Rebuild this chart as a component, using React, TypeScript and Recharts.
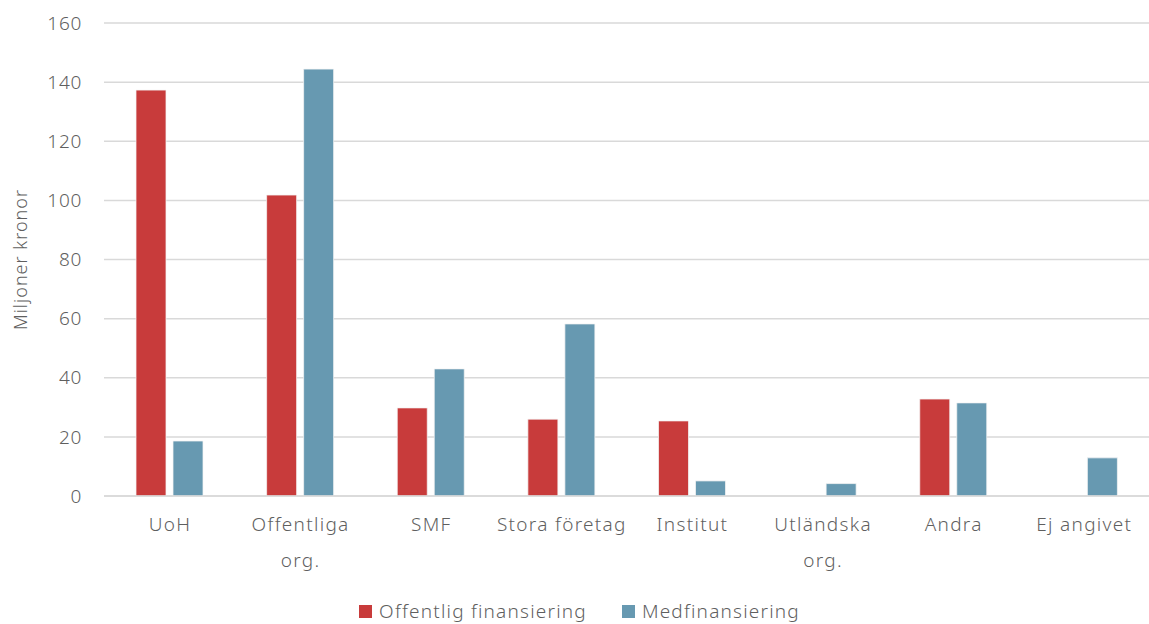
import { Bar, BarChart, CartesianGrid, Legend, XAxis, YAxis } from 'recharts'

const categories = ['UoH', 'Offentliga\norg.', 'SMF', 'Stora företag', 'Institut', 'Utländska\norg.', 'Andra', 'Ej angivet']
const offentlig = [137.3, 101.8, 29.8, 26.0, 25.4, 0, 32.8, 0]
const medfin = [18.6, 144.4, 43.0, 58.2, 5.1, 4.2, 31.5, 12.9]
const yTicks = [0, 20, 40, 60, 80, 100, 120, 140, 160]

const series = [
  { key: 'offentlig', name: 'Offentlig finansiering', color: '#c83b3b' },
  { key: 'medfin', name: 'Medfinansiering', color: '#6799b1' },
]

const data = categories.map((c, i) => ({ name: c, offentlig: offentlig[i], medfin: medfin[i] }))

const font = '"Noto Sans", sans-serif'
const textColor = '#5f5f5f'

function CategoryTick({ x, y, payload }: any) {
  const lines = String(payload.value).split('\n')
  return (
    <text x={x} y={y} textAnchor="middle" fill={textColor} fontSize={19} fontFamily={font} fontWeight={300} letterSpacing={1.3}>
      {lines.map((l, i) => (
        <tspan key={i} x={x + 0.65} dy={i === 0 ? 27 : 36}>
          {l}
        </tspan>
      ))}
    </text>
  )
}

function LegendContent() {
  return (
    <div style={{ height: 46, paddingTop: 22, paddingLeft: 10, display: 'flex', justifyContent: 'center', gap: 35, fontFamily: font, fontWeight: 300, fontSize: 19, letterSpacing: 1.2, color: textColor, boxSizing: 'border-box' }}>
      {series.map((s) => (
        <div key={s.key} style={{ display: 'flex', alignItems: 'center', gap: 7, height: 22 }}>
          <span style={{ display: 'inline-block', width: 13, height: 13, background: s.color }} />
          <span>{s.name}</span>
        </div>
      ))}
    </div>
  )
}

export default function App() {
  return (
    <div style={{ position: 'absolute', left: 0, top: 0, width: 1149, height: 624, background: '#fff' }}>
      <BarChart
        width={1149}
        height={624}
        data={data}
        margin={{ top: 23, right: 0, left: 0, bottom: 0 }}
        barSize={30}
        barGap={7}
      >
        <CartesianGrid vertical={false} stroke="#d9d9d9" strokeWidth={1.5} />
        <XAxis
          dataKey="name"
          height={82}
          interval={0}
          tick={<CategoryTick />}
          tickLine={false}
          axisLine={{ stroke: '#d9d9d9', strokeWidth: 1.5 }}
        />
        <YAxis
          width={104}
          domain={[0, 160]}
          ticks={yTicks}
          tickSize={0}
          tickMargin={22}
          axisLine={false}
          tickLine={false}
          tick={{ fill: textColor, fontSize: 19, fontFamily: font, fontWeight: 300, letterSpacing: 0.7 }}
          label={{
            value: 'Miljoner kronor',
            angle: -90,
            position: 'insideLeft',
            offset: 21,
            style: { textAnchor: 'middle', fill: textColor, fontSize: 18, fontFamily: font, fontWeight: 300, letterSpacing: 1 },
          }}
        />
        <Legend verticalAlign="bottom" height={46} content={<LegendContent />} />
        {series.map((s) => (
          <Bar key={s.key} dataKey={s.key} name={s.name} fill={s.color} stroke="#f4f4f4" strokeWidth={0.75} isAnimationActive={false} />
        ))}
      </BarChart>
    </div>
  )
}
